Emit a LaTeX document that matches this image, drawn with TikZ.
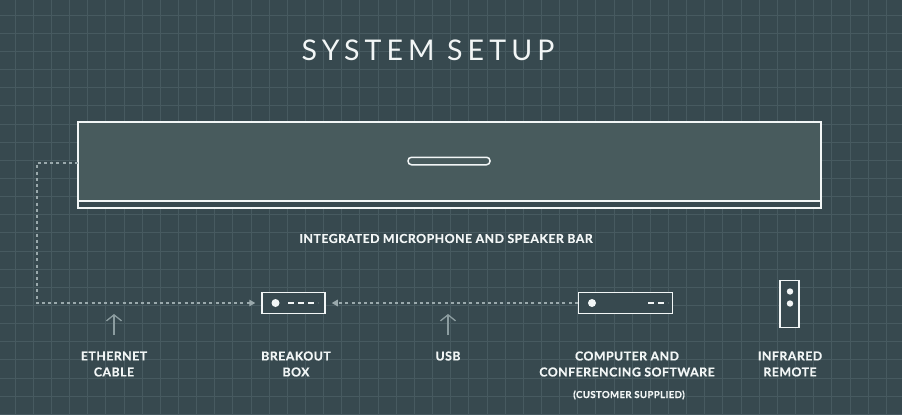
\documentclass[tikz,border=0pt]{standalone}
\usepackage{fontspec}
\setmainfont{Lato}
\newfontfamily\titlefont[LetterSpace=18]{Lato}
\newfontfamily\labfont[LetterSpace=4,FakeBold=0.6]{Lato Bold}
\usetikzlibrary{arrows.meta}
\definecolor{bg}{HTML}{37494F}
\definecolor{gridc}{HTML}{475A60}
\definecolor{barfill}{HTML}{485B5D}
\definecolor{ink}{HTML}{F2F6F6}
\definecolor{dashc}{HTML}{9AA9AC}
\definecolor{upc}{HTML}{8C9DA0}
\tikzset{
  lab/.style={text=ink, font=\labfont\fontsize{12.3}{16}\selectfont, align=center, inner sep=0pt},
  device/.style={draw=ink, line width=1.5pt, fill=bg, inner sep=0pt},
  dashlink/.style={draw=dashc, line width=1.2pt, dash pattern=on 3pt off 3.2pt, -{Triangle[length=6pt,width=6.5pt]}},
  uparrow/.style={draw=upc, line width=1.3pt, -{Straight Barb[length=6pt,width=15pt]}},
}
\begin{document}
\begin{tikzpicture}[x=1pt,y=-1pt]
\fill[bg] (0,0) rectangle (902,415);
\useasboundingbox (0,0) rectangle (902,415);
\foreach \i in {0,...,49} {
  \draw[gridc, line width=0.8pt] ({15+18.15*\i},0) -- ({15+18.15*\i},415);
}
\foreach \i in {0,...,22} {
  \draw[gridc, line width=0.8pt] (0,{15+18.15*\i}) -- (902,{15+18.15*\i});
}
% title
\node[text=ink, font=\titlefont\fontsize{28.5}{32}\selectfont, inner sep=0pt] (title) at (428,50) {SYSTEM SETUP};
% bar
\node[draw=ink, line width=1.4pt, fill=bg, minimum width=743pt, minimum height=86pt, inner sep=0pt] (bar) at (449.5,165) {};
\fill[barfill] (78,122) rectangle (821,201);
\draw[ink, line width=1.4pt] (78,201) -- (821,201);
\draw[ink, line width=1.4pt] (78,122) rectangle (821,208);
\node[draw=ink, line width=1.5pt, fill=barfill, rounded corners=3.5pt, minimum width=82pt, minimum height=7.5pt, inner sep=0pt] (slot) at (449,161) {};
\node[lab] (barlab) at (446,238.5) {INTEGRATED MICROPHONE AND SPEAKER BAR};
% devices
\node[device, minimum width=63pt, minimum height=21pt] (breakout) at (293.5,303) {};
\fill[ink] (275.5,303) circle (4pt);
\draw[ink, line width=2pt, dash pattern=on 6pt off 4pt] (288,303) -- (318,303);
\node[device, minimum width=94pt, minimum height=21pt] (computer) at (625.5,303) {};
\fill[ink] (592,303) circle (4pt);
\draw[ink, line width=2pt, dash pattern=on 6pt off 4pt] (648,303) -- (668,303);
\node[device, minimum width=19pt, minimum height=47pt] (remote) at (789.5,304) {};
\fill[ink] (790,291.5) circle (3.2pt);
\fill[ink] (790,303.5) circle (3.2pt);
% connectors
\coordinate (corner1) at (37,163);
\coordinate (corner2) at (37,303);
\draw[dashlink, shorten >=6pt] (78,163) -- (corner1) -- (corner2) -- (breakout.west);
\draw[dashlink, shorten >=6pt] (computer.west) -- (breakout.east);
% up arrows
\coordinate (ethbot) at (114,335);
\coordinate (ethtop) at (114,314);
\coordinate (usbbot) at (448,335);
\coordinate (usbtop) at (448,314);
\draw[uparrow] (ethbot) -- (ethtop);
\draw[uparrow] (usbbot) -- (usbtop);
% labels
\node[lab] (ethlab) at (114,364) {ETHERNET\\CABLE};
\node[lab] (boxlab) at (296,364) {BREAKOUT\\BOX};
\node[lab] (usblab) at (448,356) {USB};
\node[lab] (complab) at (627,364) {COMPUTER AND\\CONFERENCING SOFTWARE};
\node[lab, font=\labfont\fontsize{9.6}{11}\selectfont] (custlab) at (629,395) {(CUSTOMER SUPPLIED)};
\node[lab] (remlab) at (790,364) {INFRARED\\REMOTE};
\end{tikzpicture}
\end{document}
